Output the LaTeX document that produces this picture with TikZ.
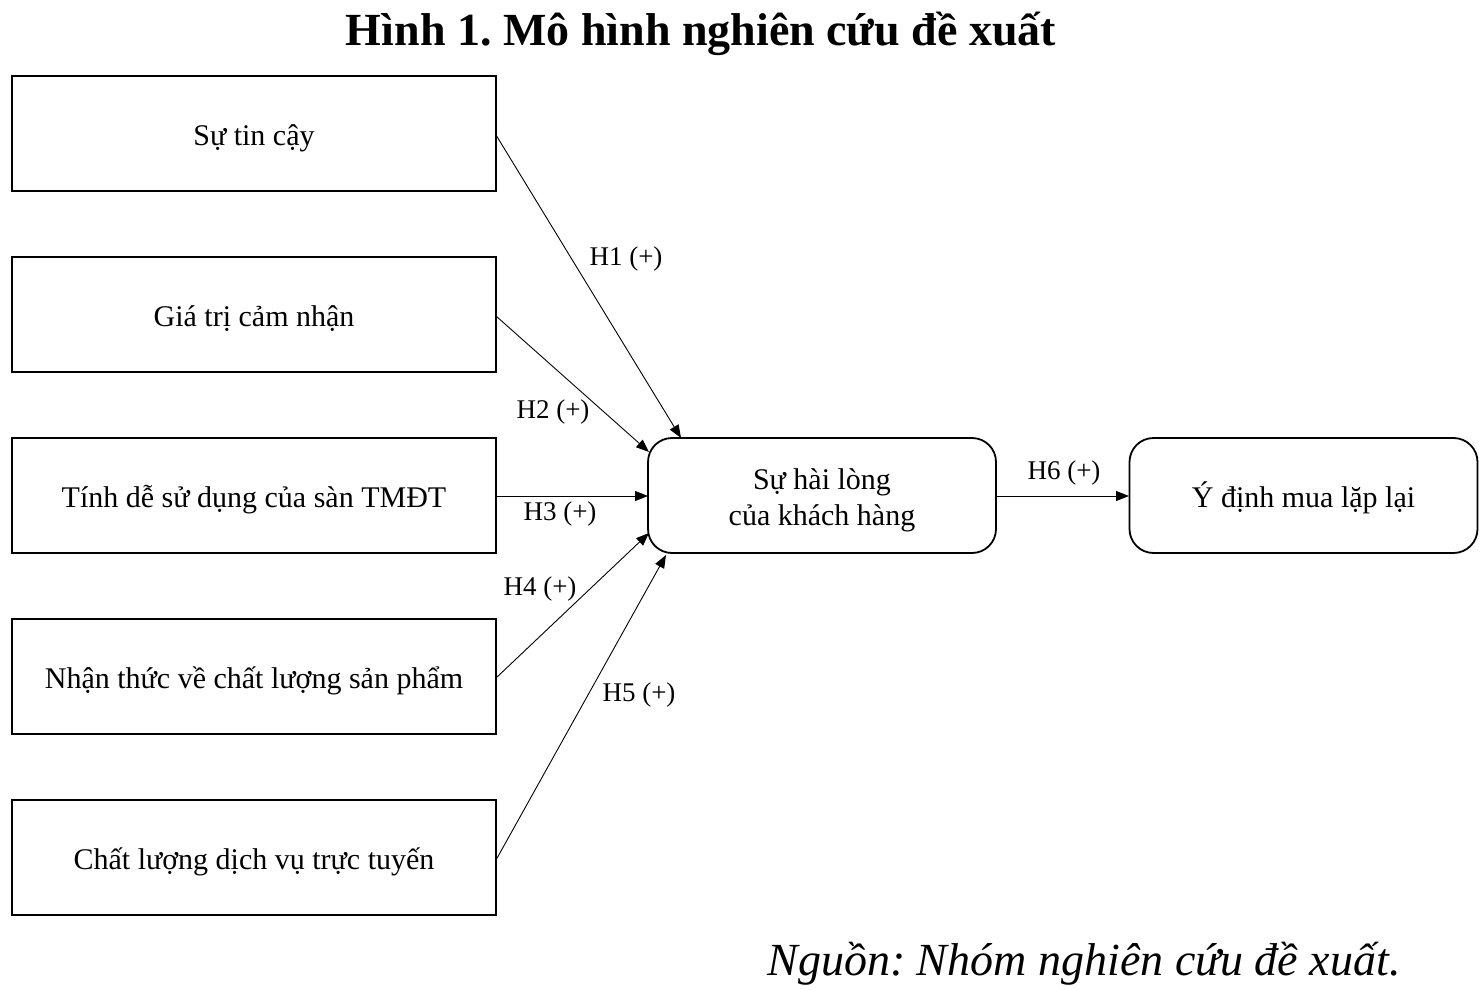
\documentclass[tikz,border=0pt]{standalone}
\usepackage{fontspec}
\setmainfont{Liberation Serif}
\usetikzlibrary{arrows.meta}
\frenchspacing
\begin{document}
\begin{tikzpicture}[x=1pt,y=-1pt,
  box/.style={draw,line width=1.8pt,minimum width=484pt,minimum height=115pt,inner sep=0pt,font=\fontsize{30}{36}\selectfont,align=center,text height=30pt,text depth=6pt},
  rbox/.style={draw,line width=1.8pt,rounded corners=24pt,minimum width=348pt,minimum height=115pt,inner sep=0pt,font=\fontsize{30}{36}\selectfont,align=center},
  conn/.style={line width=0.9pt,-{Triangle[length=13pt,width=10pt]}},
  lab/.style={font=\fontsize{27}{32}\selectfont,inner sep=0pt}]
\useasboundingbox (0,0) rectangle (1484,990);
\node[font=\bfseries\fontsize{46}{52}\selectfont] (title) at (701,34) {Hình 1. Mô hình nghiên cứu đề xuất};
\node[box] (b1) at (254,133.5) {Sự tin cậy};
\node[box] (b2) at (254,314.5) {Giá trị cảm nhận};
\node[box] (b3) at (254,495.5) {Tính dễ sử dụng của sàn TMĐT};
\node[box] (b4) at (254,676.5) {Nhận thức về chất lượng sản phẩm};
\node[box] (b5) at (254,857.5) {Chất lượng dịch vụ trực tuyến};
\node[rbox,text height=62pt,text depth=2pt] (c) at (822,495.5) {Sự hài lòng\\của khách hàng};
\node[rbox,text height=30pt,text depth=6pt] (d) at (1303.5,495.5) {Ý định mua lặp lại};
\coordinate (t1) at (681,438);
\coordinate (t2) at (649,452);
\coordinate (t3) at (648,496);
\coordinate (t4) at (649,533);
\coordinate (t5) at (666,555);
\coordinate (s1) at (496,135);
\coordinate (s2) at (496,316);
\coordinate (s3) at (496,496);
\coordinate (s4) at (496,678);
\coordinate (s5) at (496,860);
\coordinate (s6) at (996,496);
\coordinate (t6) at (1129,496);
\draw[conn] (s1) -- (t1);
\draw[conn] (s2) -- (t2);
\draw[conn] (s3) -- (t3);
\draw[conn] (s4) -- (t4);
\draw[conn] (s5) -- (t5);
\draw[conn] (s6) -- (t6);
\node[lab] (l1) at (626,259) {H1 (+)};
\node[lab] (l2) at (553,412) {H2 (+)};
\node[lab] (l3) at (560,514) {H3 (+)};
\node[lab] (l4) at (540,589) {H4 (+)};
\node[lab] (l5) at (639,695) {H5 (+)};
\node[lab] (l6) at (1064,473) {H6 (+)};
\node[font=\itshape\fontsize{46}{52}\selectfont] (src) at (1084,964) {Nguồn: Nhóm nghiên cứu đề xuất.};
\end{tikzpicture}
\end{document}
